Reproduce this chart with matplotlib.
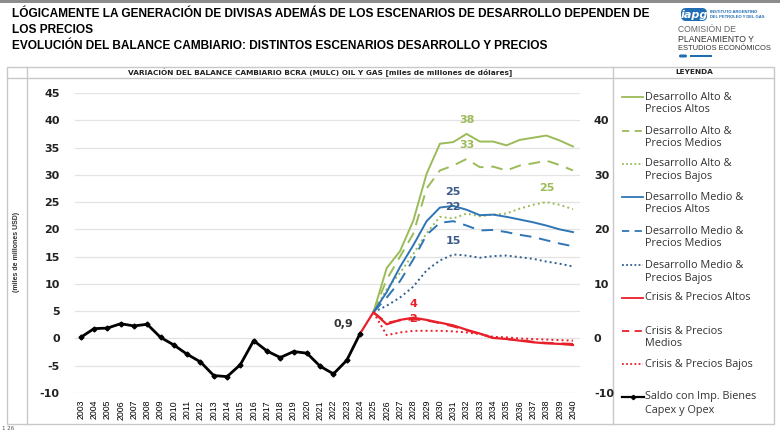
import matplotlib
matplotlib.use("Agg")
from matplotlib import pyplot as plt
from matplotlib.lines import Line2D
from matplotlib.patches import FancyBboxPatch, Rectangle

plt.rcParams['axes.unicode_minus'] = False

# Historic balance (black)
hist_years = list(range(2003, 2025))
hist_vals = [0.2, 1.8, 1.9, 2.7, 2.3, 2.6, 0.2, -1.2, -2.9, -4.3, -6.8, -7.0,
             -4.8, -0.4, -2.3, -3.5, -2.4, -2.7, -5.1, -6.5, -4.0, 0.9]

# Scenarios 2025-2040
scen_years = list(range(2025, 2041))
alto_altos = [4.8, 12.9, 16.0, 21.6, 30.2, 35.7, 36.0, 37.5, 36.1, 36.1, 35.4, 36.4, 36.8, 37.2, 36.3, 35.2]
alto_medios = [4.8, 10.8, 15.0, 19.2, 27.5, 30.8, 31.7, 32.9, 31.4, 31.5, 30.8, 31.7, 32.1, 32.6, 31.8, 30.8]
alto_bajos = [4.8, 9.0, 12.0, 15.5, 19.3, 22.3, 22.0, 22.9, 22.4, 22.7, 22.9, 23.8, 24.5, 25.0, 24.5, 23.7]
medio_altos = [4.8, 8.5, 13.1, 17.1, 21.5, 24.0, 24.3, 23.6, 22.6, 22.7, 22.3, 21.8, 21.3, 20.7, 20.0, 19.5]
medio_medios = [4.8, 7.5, 10.5, 14.5, 19.0, 21.2, 21.5, 20.7, 19.8, 19.9, 19.5, 19.0, 18.6, 18.0, 17.4, 16.9]
medio_bajos = [4.8, 6.0, 7.5, 9.5, 12.5, 14.3, 15.4, 15.2, 14.8, 15.1, 15.2, 14.9, 14.6, 14.1, 13.7, 13.2]
crisis_altos = [4.8, 2.6, 3.4, 3.8, 3.4, 2.9, 2.4, 1.6, 0.9, 0.1, -0.1, -0.4, -0.7, -0.9, -1.0, -1.2]
crisis_medios = [4.8, 2.9, 3.3, 3.5, 3.3, 2.8, 2.2, 1.5, 0.8, 0.1, -0.1, -0.3, -0.6, -0.8, -0.9, -1.0]
crisis_bajos = [4.8, 0.6, 1.1, 1.4, 1.4, 1.4, 1.3, 1.1, 0.8, 0.3, 0.2, 0.0, -0.1, -0.2, -0.3, -0.4]

GREEN = '#9BBB59'
BLUE = '#2E75B6'
BLUE_DARK = '#2F5F8F'
RED = '#E8202A'
LABEL_BLUE = '#3B5A8A'

W, H = 780, 430
fig = plt.figure(figsize=(7.8, 4.3), dpi=100)
renderer = fig.canvas.get_renderer()


def fig_box(x0, y0, x1, y1):
    return [x0 / W, 1 - y1 / H, (x1 - x0) / W, (y1 - y0) / H]


def fit_width(txt, target):
    # shrink/grow font so that the text spans target pixels
    w = txt.get_window_extent(renderer).width
    txt.set_fontsize(txt.get_fontsize() * target / w)
    return txt


ax = fig.add_axes(fig_box(75, 93, 580, 393))
ax.set_ylim(-10, 45)
ax.set_xlim(2002.57, 2040.53)
ax.set_yticks(range(-10, 50, 5))
ax.set_xticks(list(range(2003, 2041)))
ax.set_xticklabels([str(y) for y in range(2003, 2041)], rotation=90,
                   fontsize=6.3, family='Liberation Sans')
ax.grid(axis='y', color='#E3E3E3', lw=0.9)
ax.set_axisbelow(True)
for s in ax.spines.values():
    s.set_visible(False)
ax.tick_params(axis='both', length=0)
ax.tick_params(axis='y', pad=11)
ax.tick_params(axis='x', pad=5)
for lbl in ax.get_yticklabels():
    lbl.set_fontweight('bold')
    lbl.set_fontsize(8)
    lbl.set_color('#222222')

ax2 = ax.twinx()
ax2.set_ylim(-10, 45)
ax2.set_yticks(range(-10, 50, 10))
for s in ax2.spines.values():
    s.set_visible(False)
ax2.tick_params(axis='y', length=0, pad=10)
for lbl in ax2.get_yticklabels():
    lbl.set_fontweight('bold')
    lbl.set_fontsize(8)
    lbl.set_color('#222222')

dash = (0, (6, 4))
dot = (0, (1, 1.6))
lw = 1.4

ax.plot(scen_years, alto_altos, color=GREEN, lw=lw)
ax.plot(scen_years, alto_medios, color=GREEN, lw=lw, ls=dash)
ax.plot(scen_years, alto_bajos, color=GREEN, lw=lw, ls=dot)
ax.plot(scen_years, medio_altos, color=BLUE, lw=lw)
ax.plot(scen_years, medio_medios, color=BLUE, lw=lw, ls=dash)
ax.plot(scen_years, medio_bajos, color=BLUE_DARK, lw=lw, ls=dot)
ax.plot(scen_years, crisis_bajos, color=RED, lw=lw, ls=dot)
ax.plot(scen_years, crisis_medios, color=RED, lw=lw, ls=dash)
ax.plot([hist_years[-1]] + scen_years, [hist_vals[-1]] + crisis_altos, color=RED, lw=1.6)
ax.plot(hist_years, hist_vals, color='black', lw=2.0, marker='D', ms=2.5)


def lab(txt, x, y, color, dx=0, dy=8):
    ax.annotate(txt, (x, y), xytext=(dx, dy), textcoords='offset points',
                ha='center', va='center', fontsize=8, fontweight='bold', color=color)


lab('0,9', 2024, hist_vals[-1], '#333333', dx=-12, dy=7)
lab('38', 2032, alto_altos[7], GREEN, dy=10)
lab('33', 2032, alto_medios[7], GREEN, dy=10)
lab('25', 2038, alto_bajos[13], GREEN, dy=10)
lab('25', 2031, medio_altos[6], LABEL_BLUE, dy=10)
lab('22', 2031, medio_medios[6], LABEL_BLUE, dy=10)
lab('15', 2031, medio_bajos[6], LABEL_BLUE, dy=10)
lab('4', 2028, crisis_altos[3], RED, dy=10)
lab('2', 2028, crisis_medios[3], RED, dy=0)

# Overlay in pixel coords for frame, titles, legend and logo
ov = fig.add_axes([0, 0, 1, 1], zorder=-1)
ov.set_xlim(0, W)
ov.set_ylim(H, 0)
ov.axis('off')

ov.add_patch(Rectangle((0, 0), W, 3, color='#8C8C8C', lw=0))

title_kw = dict(fontsize=10.5, fontweight='bold', family='Liberation Sans',
                color='black', va='center', ha='left')
t1 = ov.text(12, 14, 'LÓGICAMENTE LA GENERACIÓN DE DIVISAS ADEMÁS DE LOS ESCENARIOS DE DESARROLLO DEPENDEN DE', **title_kw)
fit_width(t1, 646)
title_kw['fontsize'] = t1.get_fontsize()
ov.text(12, 30, 'LOS PRECIOS', **title_kw)
ov.text(12, 46, 'EVOLUCIÓN DEL BALANCE CAMBIARIO: DISTINTOS ESCENARIOS DESARROLLO Y PRECIOS', **title_kw)

# logo
ov.add_patch(FancyBboxPatch((681, 8), 26, 13, boxstyle='round,pad=0,rounding_size=5',
                            fc='#1F6DB4', ec='none'))
ov.text(694, 15, 'iapg', color='white', fontsize=8, fontweight='bold', style='italic',
        ha='center', va='center')
ov.text(710, 12, 'INSTITUTO ARGENTINO', color='#1F6DB4', fontsize=3.0, fontweight='bold',
        va='center', family='Liberation Sans')
ov.text(710, 17.5, 'DEL PETROLEO Y DEL GAS', color='#1F6DB4', fontsize=3.0, fontweight='bold',
        va='center', family='Liberation Sans')
logo_kw = dict(fontsize=6.2, va='center', family='Liberation Sans')
ov.text(678, 30, 'COMISIÓN DE', color='#666666', **logo_kw)
ov.text(678, 39, 'PLANEAMIENTO Y', color='#333333', **logo_kw)
t_est = ov.text(678, 48, 'ESTUDIOS ECONÓMICOS', color='#333333', **logo_kw)
fit_width(t_est, 93)
ov.add_patch(FancyBboxPatch((679, 54.5), 8, 3, boxstyle='round,pad=0,rounding_size=1.5', fc='#1F6DB4', ec='none'))
ov.add_patch(Rectangle((690, 55), 22, 2, fc='#1F6DB4', ec='none'))

# table frame
fc = '#C8C8C8'
ov.add_patch(Rectangle((7, 67), 767, 357, fill=False, ec=fc, lw=1))
ov.plot([7, 774], [78, 78], color=fc, lw=1)
for xv in (27, 613):
    ov.plot([xv, xv], [67, 424], color=fc, lw=1)
ov.text(320, 72.5, 'VARIACIÓN DEL BALANCE CAMBIARIO BCRA (MULC) OIL Y GAS [miles de millones de dólares]',
        fontsize=5.3, fontweight='bold', ha='center', va='center', color='#222222')
ov.text(694, 72.5, 'LEYENDA', fontsize=5.3, fontweight='bold', ha='center', va='center', color='#222222')
ov.text(17, 252, '(miles de millones USD)', fontsize=5, fontweight='bold', rotation=90,
        ha='center', va='center', color='#333333', family='Liberation Sans')

# legend
leg_font = dict(fontsize=7.8, family='Open Sans', va='center', ha='left', color='#333333')
entries = [
    (['Desarrollo Alto &', 'Precios Altos'], 97, GREEN, '-'),
    (['Desarrollo Alto &', 'Precios Medios'], 131, GREEN, dash),
    (['Desarrollo Alto &', 'Precios Bajos'], 164, GREEN, dot),
    (['Desarrollo Medio &', 'Precios Altos'], 197, BLUE, '-'),
    (['Desarrollo Medio &', 'Precios Medios'], 231, BLUE, dash),
    (['Desarrollo Medio &', 'Precios Bajos'], 265, BLUE_DARK, dot),
    (['Crisis & Precios Altos'], 298, RED, '-'),
    (['Crisis & Precios', 'Medios'], 331, RED, dash),
    (['Crisis & Precios Bajos'], 364, RED, dot),
    (['Saldo con Imp. Bienes', 'Capex y Opex'], 397, 'black', '-'),
]
for lines, y, col, ls in entries:
    if col == 'black':
        ov.add_line(Line2D([622, 644], [y, y], color=col, lw=1.6))
        ov.plot([633], [y], marker='D', ms=2.2, color='black')
    else:
        dashes = (0, (4, 3)) if ls == dash else ((0, (1, 1.3)) if ls == dot else '-')
        ov.add_line(Line2D([622, 643], [y, y], color=col, lw=1.3, ls=dashes))
    for i, t in enumerate(lines):
        ov.text(645, y + i * 13, t, **leg_font)

ov.text(2, 428, '1 26', fontsize=4, color='#555555', va='center')

fig.savefig('out.png', dpi=100)
